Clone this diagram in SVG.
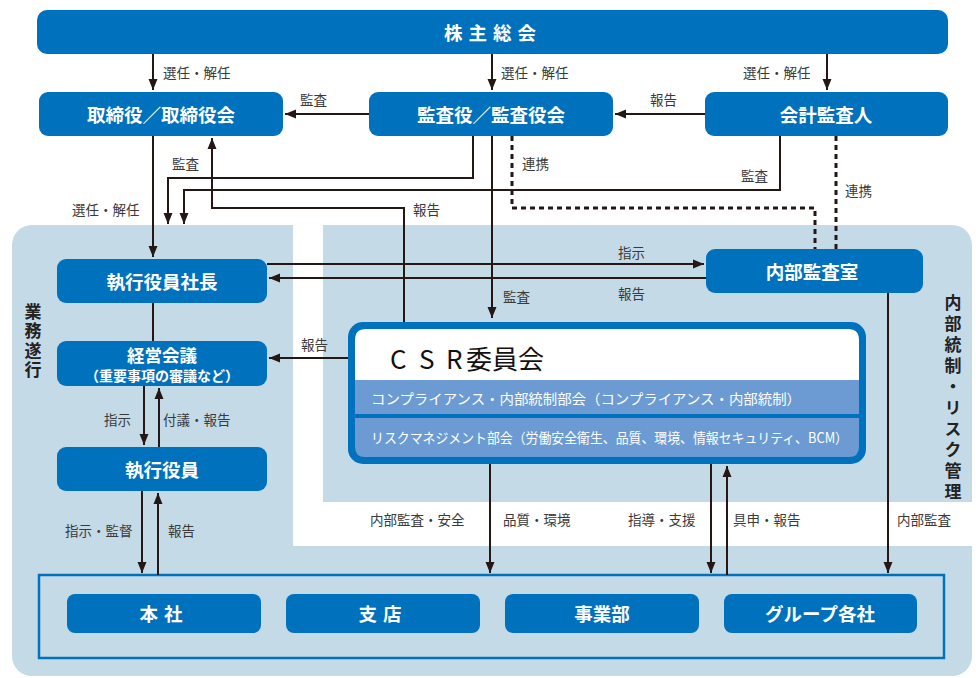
<svg xmlns="http://www.w3.org/2000/svg" width="976" height="678" viewBox="0 0 976 678">
<style>
.bg{fill:#c4dbe7}
.box{fill:#0071bc}
.bt{fill:#fff;font-family:"Noto Sans CJK JP","Noto Sans",sans-serif;font-weight:bold;font-size:18.5px;text-anchor:middle;dominant-baseline:central}
.lb{fill:#3a3a3a;font-family:"Noto Sans CJK JP","Noto Sans",sans-serif;font-size:13.5px;dominant-baseline:central}
.vt{fill:#222;font-family:"Noto Sans CJK JP","Noto Sans",sans-serif;font-weight:bold;font-size:17px;writing-mode:vertical-rl}
.ln{fill:none;stroke:#231815;stroke-width:2}
.ar{fill:none;stroke:#231815;stroke-width:2;marker-end:url(#ah)}
.dt{fill:none;stroke:#231815;stroke-width:3;stroke-dasharray:5 4}
.band{fill:#6b9bd2}
.bd{fill:#fff;font-family:"Noto Sans CJK JP","Noto Sans",sans-serif;font-size:14px;dominant-baseline:central}
</style>
<defs>
<marker id="ah" markerUnits="userSpaceOnUse" markerWidth="12" markerHeight="12" viewBox="0 0 12 12" refX="11" refY="6" orient="auto">
<path d="M0,1.5 L11,6 L0,10.5 Z" fill="#231815"/>
</marker>
</defs>
<rect width="976" height="678" fill="#fff"/>
<g id="background">
<rect class="bg" x="12" y="225" width="960" height="451" rx="20"/>
<rect x="293" y="225" width="30" height="321" fill="#fff"/>
<rect x="293" y="502" width="683" height="44" fill="#fff"/>
<rect x="39" y="575" width="905" height="83" fill="#c4dbe7" stroke="#0071bc" stroke-width="2.5"/>
</g>
<g id="connectors">
<path class="ar" d="M153,54 V90"/>
<path class="ar" d="M492,54 V90"/>
<path class="ar" d="M827,54 V90"/>
<path class="ar" d="M369,114 H285"/>
<path class="ar" d="M705,114 H615"/>
<path class="ar" d="M153,136 V257"/>
<path class="ar" d="M473,136 V178 H168 V224"/>
<path class="ar" d="M780,136 V190 H184 V224"/>
<path class="ar" d="M404,322 V208 H212 V138"/>
<path class="ar" d="M492,136 V318"/>
<path class="dt" d="M512,136 V208 H815 V249"/>
<path class="dt" d="M836,136 V249"/>
<path class="ar" d="M267,264 H704"/>
<path class="ar" d="M706,278 H269"/>
<path class="ln" d="M153,303 V341"/>
<path class="ar" d="M348,358 H269"/>
<path class="ar" d="M144,386 V445"/>
<path class="ar" d="M159,447 V388"/>
<path class="ar" d="M142,491 V573"/>
<path class="ar" d="M158,575 V493"/>
<path class="ar" d="M490,464 V573"/>
<path class="ar" d="M711,464 V573"/>
<path class="ar" d="M727,575 V466"/>
<path class="ar" d="M888,293 V573"/>
</g>
<g id="labels">
<text class="lb" x="163" y="72">選任・解任</text>
<text class="lb" x="501" y="72">選任・解任</text>
<text class="lb" x="743" y="72">選任・解任</text>
<text class="lb" x="300" y="99">監査</text>
<text class="lb" x="650" y="99">報告</text>
<text class="lb" x="72" y="209">選任・解任</text>
<text class="lb" x="172" y="163">監査</text>
<text class="lb" x="741" y="175">監査</text>
<text class="lb" x="413" y="209">報告</text>
<text class="lb" x="522" y="163">連携</text>
<text class="lb" x="845" y="190">連携</text>
<text class="lb" x="503" y="296">監査</text>
<text class="lb" x="618" y="252">指示</text>
<text class="lb" x="618" y="293">報告</text>
<text class="lb" x="301" y="344">報告</text>
<text class="lb" x="104" y="419">指示</text>
<text class="lb" x="163" y="419">付議・報告</text>
<text class="lb" x="65" y="530">指示・監督</text>
<text class="lb" x="168" y="530">報告</text>
<text class="lb" x="370" y="519">内部監査・安全</text>
<text class="lb" x="503" y="519">品質・環境</text>
<text class="lb" x="628" y="519">指導・支援</text>
<text class="lb" x="733" y="519">具申・報告</text>
<text class="lb" x="897" y="519">内部監査</text>
</g>
<g id="vlabel-left">
<text class="vt" x="33" y="303" letter-spacing="2.5">業務遂行</text>
</g>
<g id="vlabel-right">
<text class="vt" x="953" y="294" letter-spacing="4">内部統制・リスク管理</text>
</g>
<g id="n-shareholders">
<rect class="box" x="37" y="10" width="911" height="44" rx="10"/>
<text class="bt" x="493" y="32" letter-spacing="6">株主総会</text>
</g>
<g id="n-board">
<rect class="box" x="39" y="92" width="244" height="44" rx="9"/>
<text class="bt" x="161" y="114">取締役／取締役会</text>
</g>
<g id="n-auditors">
<rect class="box" x="369" y="92" width="244" height="44" rx="9"/>
<text class="bt" x="491" y="114">監査役／監査役会</text>
</g>
<g id="n-accounting">
<rect class="box" x="705" y="92" width="243" height="44" rx="9"/>
<text class="bt" x="826" y="114">会計監査人</text>
</g>
<g id="n-president">
<rect class="box" x="57" y="259" width="210" height="44" rx="9"/>
<text class="bt" x="162" y="281">執行役員社長</text>
</g>
<g id="n-internal-audit">
<rect class="box" x="706" y="249" width="217" height="44" rx="9"/>
<text class="bt" x="812" y="271">内部監査室</text>
</g>
<g id="n-management">
<rect class="box" x="57" y="341" width="210" height="45" rx="9"/>
<text class="bt" x="162" y="354" style="font-size:17.5px">経営会議</text>
<text class="bt" x="162" y="375" style="font-size:14px">（重要事項の審議など）</text>
</g>
<g id="n-officers">
<rect class="box" x="57" y="447" width="210" height="44" rx="9"/>
<text class="bt" x="162" y="469">執行役員</text>
</g>
<g id="n-csr">
<rect class="box" x="348" y="322" width="518" height="142" rx="15"/>
<path d="M355,380 V340 Q355,329 366,329 H848 Q859,329 859,340 V380 Z" fill="#fff"/>
<rect class="band" x="355" y="380" width="504" height="34"/>
<path class="band" d="M355,418 H859 V447 Q859,457 849,457 H365 Q355,457 355,447 Z"/>
<text y="357" style="fill:#111;font-family:'Noto Sans CJK JP','Noto Sans',sans-serif;font-size:26px;dominant-baseline:central"><tspan x="390">C</tspan><tspan x="419">S</tspan><tspan x="446">R</tspan><tspan x="466">委員会</tspan></text>
<text class="bd" x="371" y="398" textLength="430" lengthAdjust="spacingAndGlyphs">コンプライアンス・内部統制部会（コンプライアンス・内部統制）</text>
<text class="bd" x="371" y="437" textLength="477" lengthAdjust="spacingAndGlyphs">リスクマネジメント部会（労働安全衛生、品質、環境、情報セキュリティ、BCM）</text>
</g>
<g id="n-honsha">
<rect class="box" x="67" y="594" width="194" height="39" rx="8"/>
<text class="bt" x="164" y="613" letter-spacing="6">本社</text>
</g>
<g id="n-shiten">
<rect class="box" x="286" y="594" width="194" height="39" rx="8"/>
<text class="bt" x="383" y="613" letter-spacing="6">支店</text>
</g>
<g id="n-jigyobu">
<rect class="box" x="505" y="594" width="194" height="39" rx="8"/>
<text class="bt" x="602" y="613">事業部</text>
</g>
<g id="n-group">
<rect class="box" x="724" y="594" width="193" height="39" rx="8"/>
<text class="bt" x="820" y="613">グループ各社</text>
</g>
</svg>
